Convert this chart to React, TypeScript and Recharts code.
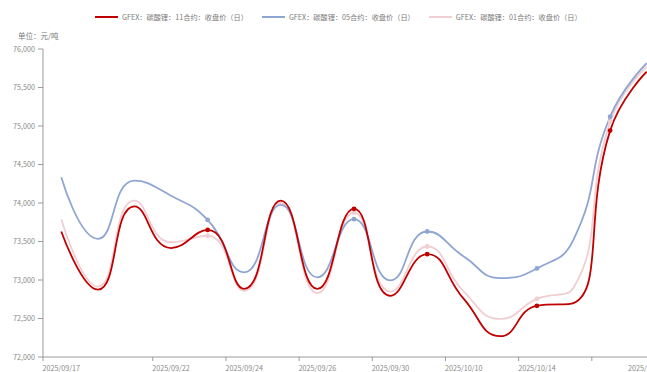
import { ComposedChart, Line, XAxis, YAxis } from 'recharts'

const DATES = [
  '2025/09/17', '2025/09/18', '2025/09/19', '2025/09/22', '2025/09/23', '2025/09/24',
  '2025/09/25', '2025/09/26', '2025/09/29', '2025/09/30', '2025/10/09', '2025/10/10',
  '2025/10/13', '2025/10/14', '2025/10/15', '2025/10/16', '2025/10/17',
]

// closing prices, yuan/ton
const CLOSE_11 = [73630, 72875, 73955, 73415, 73650, 72885, 74030, 72885, 73925, 72795, 73335, 72755, 72270, 72665, 72700, 74940, 75705]
const CLOSE_05 = [74335, 73535, 74290, 74095, 73780, 73100, 73975, 73035, 73790, 72995, 73630, 73305, 73025, 73150, 73525, 75120, 75815]
const CLOSE_01 = [73790, 72915, 74030, 73490, 73575, 72860, 74000, 72830, 73875, 72850, 73435, 72850, 72495, 72755, 72900, 75055, 75770]

const Y_TICKS = [72000, 72500, 73000, 73500, 74000, 74500, 75000, 75500, 76000]

const LABELED_DATES = ['2025/09/17', '2025/09/22', '2025/09/24', '2025/09/26', '2025/09/30', '2025/10/10', '2025/10/14', '2025/10/17']
const TICK_DATES = ['2025/09/17', '2025/09/22', '2025/09/24', '2025/09/26', '2025/09/30', '2025/10/10', '2025/10/14', '2025/10/16']
const MARKED_DATES = ['2025/09/23', '2025/09/29', '2025/10/09', '2025/10/14', '2025/10/16']

const SERIES = [
  { key: 'c11', name: 'GFEX：碳酸锂：11合约：收盘价（日）', color: '#c00000' },
  { key: 'c05', name: 'GFEX：碳酸锂：05合约：收盘价（日）', color: '#8fa6d2' },
  { key: 'c01', name: 'GFEX：碳酸锂：01合约：收盘价（日）', color: '#f0cfd3' },
]

const data = DATES.map((date, i) => ({
  date,
  c11: CLOSE_11[i],
  c05: CLOSE_05[i],
  c01: CLOSE_01[i],
}))

const FONT = '"Noto Sans CJK SC", "Noto Sans", sans-serif'
const AXIS = '#9a9a9a'
const TEXT = '#8a8a8a'

const CHART_W = 680
const CHART_H = 372
const MARGIN = { top: 49, right: 15, bottom: 0, left: 0 }
const Y_AXIS_W = 43
const BAND = (CHART_W - MARGIN.left - MARGIN.right - Y_AXIS_W) / DATES.length

// smooth curve with control points clamped between neighbours (no overshoot past the data)
const SMOOTH = 0.5
const clamp = (v: number, a: number, b: number) => Math.max(Math.min(v, Math.max(a, b)), Math.min(a, b))

function smoothCurve(context: any) {
  let xs: number[] = []
  let ys: number[] = []
  return {
    areaStart() {},
    areaEnd() {},
    lineStart() {
      xs = []
      ys = []
    },
    point(x: number, y: number) {
      xs.push(+x)
      ys.push(+y)
    },
    lineEnd() {
      const n = xs.length
      if (!n) return
      context.moveTo(xs[0], ys[0])
      let cpx0 = xs[0]
      let cpy0 = ys[0]
      for (let i = 1; i < n; i++) {
        const x = xs[i], y = ys[i]
        const px = xs[i - 1], py = ys[i - 1]
        let cpx1 = x, cpy1 = y, ncx = x, ncy = y
        if (i < n - 1) {
          const nx = xs[i + 1], ny = ys[i + 1]
          const len0 = Math.hypot(x - px, y - py)
          const len1 = Math.hypot(nx - x, ny - y)
          const ratio = len1 / (len0 + len1)
          ncx = clamp(x + (nx - px) * SMOOTH * ratio, nx, x)
          ncy = clamp(y + (ny - py) * SMOOTH * ratio, ny, y)
          cpx1 = clamp(x - ((ncx - x) * len0) / len1, px, x)
          cpy1 = clamp(y - ((ncy - y) * len0) / len1, py, y)
          ncx = x + ((x - cpx1) * len1) / len0
          ncy = y + ((y - cpy1) * len1) / len0
        }
        context.bezierCurveTo(cpx0, cpy0, cpx1, cpy1, x, y)
        cpx0 = ncx
        cpy0 = ncy
      }
    },
  }
}

function DateTick({ x, y, payload }: any) {
  const value: string = payload.value
  const left = x - BAND / 2
  return (
    <g>
      {TICK_DATES.includes(value) && <line x1={left} y1={y} x2={left} y2={y + 4} stroke={AXIS} />}
      {LABELED_DATES.includes(value) && (
        <text x={x} y={y + 14} textAnchor="middle" fill={TEXT} fontSize={7.2} fontFamily={FONT}>
          {value}
        </text>
      )}
    </g>
  )
}

const makeDot = (color: string) => (props: any) => {
  const { cx, cy, index } = props
  if (!MARKED_DATES.includes(DATES[index])) return <g key={`n-${index}`} />
  return <circle key={`d-${index}`} cx={cx} cy={cy} r={2.4} fill={color} />
}

function LegendBar() {
  return (
    <div style={{ position: 'absolute', left: 95, top: 11, display: 'flex', gap: 14, fontFamily: FONT, fontSize: 7.2, color: '#7a7a7a' }}>
      {SERIES.map((s) => (
        <div key={s.key} style={{ display: 'flex', alignItems: 'center', gap: 4, height: 12 }}>
          <span style={{ display: 'inline-block', width: 23, height: 2, background: s.color }} />
          <span>{s.name}</span>
        </div>
      ))}
    </div>
  )
}

export default function App() {
  const drawOrder = [...SERIES].reverse()
  return (
    <div style={{ position: 'absolute', left: 0, top: 0, width: 647, height: 372, overflow: 'hidden', background: '#fff' }}>
      <LegendBar />
      <div style={{ position: 'absolute', left: 18, top: 30, fontFamily: FONT, fontSize: 7.5, color: '#7a7a7a' }}>单位：元/吨</div>
      <ComposedChart width={CHART_W} height={CHART_H} data={data} margin={MARGIN}>
        <XAxis
          dataKey="date"
          scale="band"
          interval={0}
          height={15}
          stroke={AXIS}
          tickLine={false}
          tickSize={0}
          tickMargin={0}
          tick={<DateTick />}
        />
        <YAxis
          width={Y_AXIS_W}
          domain={[72000, 76000]}
          ticks={Y_TICKS}
          stroke={AXIS}
          tickSize={5}
          tickMargin={3}
          tick={{ fill: TEXT, fontSize: 7.2, fontFamily: FONT }}
          tickFormatter={(v: number) => v.toLocaleString('en-US')}
        />
        {drawOrder.map((s) => (
          <Line
            key={s.key}
            dataKey={s.key}
            name={s.name}
            type={smoothCurve as any}
            stroke={s.color}
            strokeWidth={1.8}
            dot={makeDot(s.color)}
            activeDot={false}
            isAnimationActive={false}
          />
        ))}
      </ComposedChart>
    </div>
  )
}
